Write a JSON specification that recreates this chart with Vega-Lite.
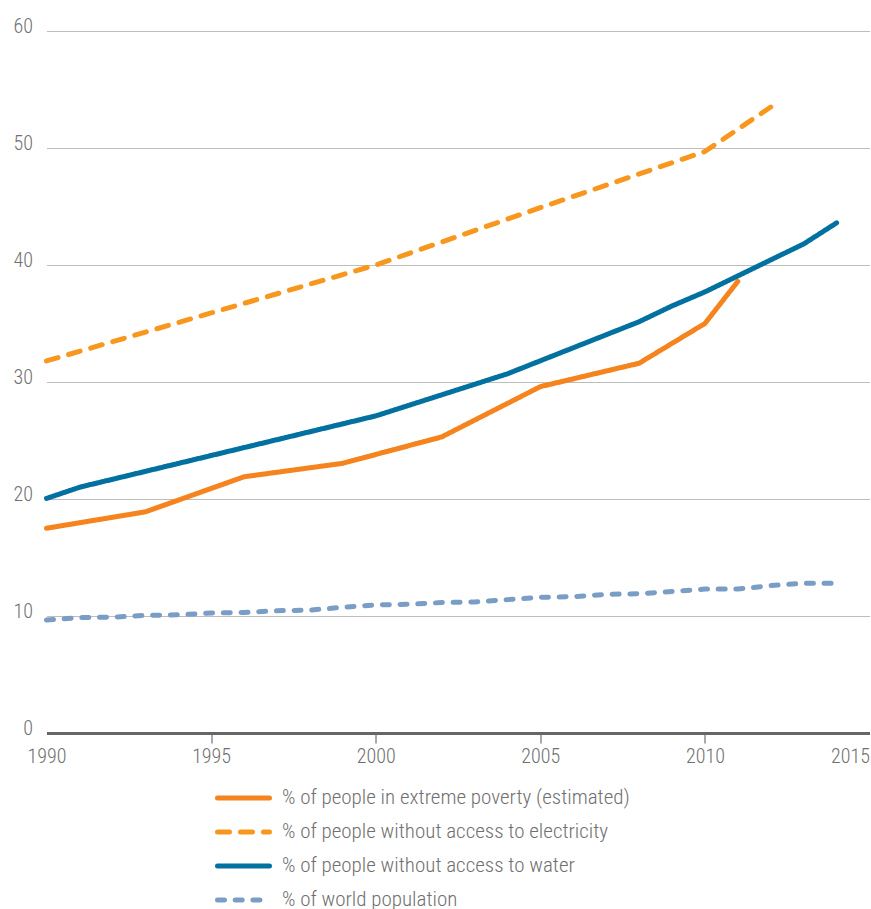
{
  "$schema": "https://vega.github.io/schema/vega-lite/v6.json",
  "width": 823,
  "height": 702,
  "autosize": {"type": "none"},
  "padding": {"left": 46.5, "top": 31, "right": 1.5, "bottom": 176},
  "background": "white",
  "config": {
    "view": {"stroke": null},
    "font": "Liberation Sans Narrow, Roboto Condensed, Arial Narrow, sans-serif"
  },
  "data": {
    "values": [
      {"series": "% of people in extreme poverty (estimated)", "year": 1990, "value": 17.5},
      {"series": "% of people in extreme poverty (estimated)", "year": 1993, "value": 18.9},
      {"series": "% of people in extreme poverty (estimated)", "year": 1996, "value": 21.9},
      {"series": "% of people in extreme poverty (estimated)", "year": 1999, "value": 23.05},
      {"series": "% of people in extreme poverty (estimated)", "year": 2002, "value": 25.3},
      {"series": "% of people in extreme poverty (estimated)", "year": 2005, "value": 29.6},
      {"series": "% of people in extreme poverty (estimated)", "year": 2008, "value": 31.6},
      {"series": "% of people in extreme poverty (estimated)", "year": 2010, "value": 35.0},
      {"series": "% of people in extreme poverty (estimated)", "year": 2011, "value": 38.6},

      {"series": "% of people without access to electricity", "year": 1990, "value": 31.8},
      {"series": "% of people without access to electricity", "year": 1995, "value": 35.9},
      {"series": "% of people without access to electricity", "year": 2000, "value": 40.0},
      {"series": "% of people without access to electricity", "year": 2005, "value": 44.9},
      {"series": "% of people without access to electricity", "year": 2010, "value": 49.7},
      {"series": "% of people without access to electricity", "year": 2012, "value": 53.5},

      {"series": "% of people without access to water", "year": 1990, "value": 20.05},
      {"series": "% of people without access to water", "year": 1991, "value": 21.0},
      {"series": "% of people without access to water", "year": 2000, "value": 27.1},
      {"series": "% of people without access to water", "year": 2002, "value": 28.9},
      {"series": "% of people without access to water", "year": 2004, "value": 30.7},
      {"series": "% of people without access to water", "year": 2008, "value": 35.15},
      {"series": "% of people without access to water", "year": 2009, "value": 36.5},
      {"series": "% of people without access to water", "year": 2010, "value": 37.7},
      {"series": "% of people without access to water", "year": 2013, "value": 41.8},
      {"series": "% of people without access to water", "year": 2014, "value": 43.6},

      {"series": "% of world population", "year": 1990, "value": 9.66},
      {"series": "% of world population", "year": 1991, "value": 9.86},
      {"series": "% of world population", "year": 1992, "value": 9.9},
      {"series": "% of world population", "year": 1993, "value": 10.05},
      {"series": "% of world population", "year": 1994, "value": 10.1},
      {"series": "% of world population", "year": 1995, "value": 10.25},
      {"series": "% of world population", "year": 1996, "value": 10.3},
      {"series": "% of world population", "year": 1997, "value": 10.45},
      {"series": "% of world population", "year": 1998, "value": 10.5},
      {"series": "% of world population", "year": 1999, "value": 10.75},
      {"series": "% of world population", "year": 2000, "value": 10.95},
      {"series": "% of world population", "year": 2001, "value": 11.0},
      {"series": "% of world population", "year": 2002, "value": 11.15},
      {"series": "% of world population", "year": 2003, "value": 11.2},
      {"series": "% of world population", "year": 2004, "value": 11.4},
      {"series": "% of world population", "year": 2005, "value": 11.6},
      {"series": "% of world population", "year": 2006, "value": 11.65},
      {"series": "% of world population", "year": 2007, "value": 11.85},
      {"series": "% of world population", "year": 2008, "value": 11.9},
      {"series": "% of world population", "year": 2009, "value": 12.1},
      {"series": "% of world population", "year": 2010, "value": 12.3},
      {"series": "% of world population", "year": 2011, "value": 12.3},
      {"series": "% of world population", "year": 2012, "value": 12.6},
      {"series": "% of world population", "year": 2013, "value": 12.8},
      {"series": "% of world population", "year": 2014, "value": 12.8}
    ]
  },
  "mark": {"type": "line", "strokeWidth": 5, "strokeCap": "round", "strokeJoin": "round"},
  "encoding": {
    "x": {
      "field": "year",
      "type": "quantitative",
      "scale": {"domain": [1990, 2015], "nice": false, "zero": false},
      "axis": {
        "title": null,
        "values": [1990, 1995, 2000, 2005, 2010, 2015],
        "format": "d",
        "grid": false,
        "domainColor": "#666666",
        "domainWidth": 3,
        "tickColor": {"condition": {"test": "datum.value == 1990 || datum.value == 2015", "value": "transparent"}, "value": "#555555"},
        "tickSize": 10,
        "tickWidth": 1,
        "labelFontSize": 20,
        "labelFontWeight": 300,
        "labelColor": "#707070",
        "labelBaseline": "alphabetic",
        "labelPadding": 19,
        "labelAlign": {"condition": {"test": "datum.value == 2015", "value": "right"}, "value": "center"}
      }
    },
    "y": {
      "field": "value",
      "type": "quantitative",
      "scale": {"domain": [0, 60], "nice": false},
      "axis": {
        "title": null,
        "values": [0, 10, 20, 30, 40, 50, 60],
        "domain": false,
        "ticks": false,
        "gridColor": {"condition": {"test": "datum.value == 0", "value": "transparent"}, "value": "#bdbdbd"},
        "gridWidth": 1.2,
        "labelFontSize": 20,
        "labelFontWeight": 300,
        "labelColor": "#707070",
        "labelPadding": 14,
        "labelBaseline": "alphabetic",
        "labelOffset": 1
      }
    },
    "color": {
      "field": "series",
      "type": "nominal",
      "scale": {
        "domain": [
          "% of people in extreme poverty (estimated)",
          "% of people without access to electricity",
          "% of people without access to water",
          "% of world population"
        ],
        "range": ["#F5841F", "#F8971D", "#0271A0", "#7A9DC5"]
      },
      "legend": {
        "title": null,
        "orient": "none",
        "legendX": 168.5,
        "legendY": 750,
        "direction": "vertical",
        "symbolType": "stroke",
        "symbolSize": 2704,
        "symbolStrokeWidth": 5,
        "labelFontSize": 21,
        "labelFontWeight": 300,
        "labelColor": "#707070",
        "labelOffset": 10,
        "rowPadding": 0,
        "clipHeight": 34,
        "padding": 0,
        "labelLimit": 600,
        "encode": {"symbols": {"update": {"strokeCap": {"value": "round"}}}}
      }
    },
    "strokeDash": {
      "field": "series",
      "type": "nominal",
      "scale": {
        "domain": [
          "% of people in extreme poverty (estimated)",
          "% of people without access to electricity",
          "% of people without access to water",
          "% of world population"
        ],
        "range": [[1, 0], [12, 11], [1, 0], [7, 10.7]]
      },
      "legend": null
    }
  }
}
